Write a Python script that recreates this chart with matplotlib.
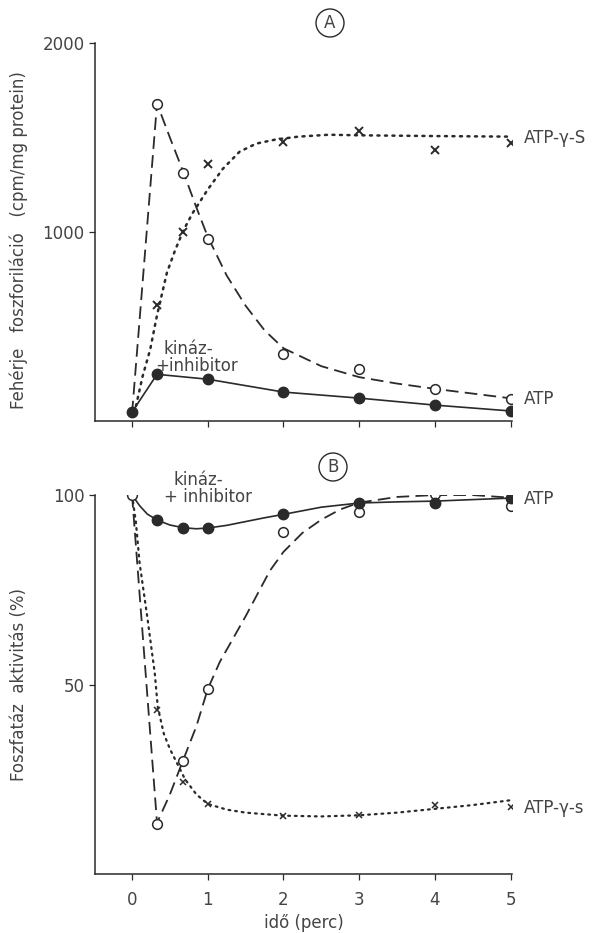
import matplotlib
matplotlib.use("Agg")
import matplotlib.pyplot as plt

# ---------------- data ----------------
# Panel A: protein phosphorylation (cpm/mg protein) vs time (min)
a_atp_x = [0.33, 0.67, 1, 2, 3, 4, 5]
a_atp_y = [1678, 1315, 963, 352, 273, 168, 116]
a_atp_curve_x = [0, 0.33, 0.5, 0.68, 0.85, 1.0, 1.25, 1.5, 1.75, 2.0, 2.5, 3.0, 3.5, 4.0, 4.5, 5.0]
a_atp_curve_y = [40, 1680, 1500, 1315, 1130, 975, 770, 610, 480, 385, 290, 232, 198, 170, 145, 120]

a_gs_x = [0.33, 0.67, 1, 2, 3, 4, 5]
a_gs_y = [615, 1000, 1362, 1478, 1536, 1436, 1473]
a_gs_curve_x = [0.03, 0.14, 0.24, 0.33, 0.46, 0.57, 0.68, 0.8, 1.0, 1.2, 1.42, 1.64, 1.9, 2.2, 2.6, 3.0, 4.0, 5.0]
a_gs_curve_y = [40, 237, 379, 560, 784, 905, 1010, 1100, 1225, 1335, 1425, 1468, 1490, 1505, 1515, 1512, 1508, 1505]

a_kin_x = [0, 0.33, 1, 2, 3, 4, 5]
a_kin_y = [47, 247, 221, 153, 121, 84, 53]

# Panel B: phosphatase activity (%) vs time (min)
b_atp_x = [0, 0.33, 0.67, 1, 2, 3, 4, 5]
b_atp_y = [100, 13.2, 29.8, 48.8, 90.2, 95.5, 100.3, 97.1]
b_atp_curve_x = [0, 0.33, 0.5, 0.67, 0.85, 1.0, 1.16, 1.5, 1.82, 2.0, 2.25, 2.5, 2.75, 3.0, 3.5, 4.0, 4.5, 5.0]
b_atp_curve_y = [100, 13.5, 21, 29.8, 39, 48.8, 56, 68, 80, 85, 90, 93.5, 96.2, 98, 99.5, 100, 100, 99.3]

b_gs_x = [0.33, 0.67, 1, 2, 3, 4, 5]
b_gs_y = [43.3, 24.3, 18.5, 15.4, 15.6, 18.2, 17.7]
b_gs_curve_x = [0, 0.05, 0.1, 0.2, 0.3, 0.34, 0.42, 0.5, 0.6, 0.7, 0.85, 1.0, 1.25, 1.5, 2.0, 2.5, 3.0, 3.5, 4.0, 4.5, 5.05]
b_gs_curve_y = [100, 93, 82, 68, 53, 44, 37, 33, 29, 25, 21, 18.5, 17, 16.2, 15.4, 15.2, 15.5, 16.2, 17.2, 18.2, 19.6]

b_kin_x = [0.33, 0.67, 1, 2, 3, 4, 5]
b_kin_y = [93.4, 91.3, 91.3, 94.9, 98.0, 97.8, 99.2]
b_kin_curve_x = [0, 0.1, 0.2, 0.33, 0.5, 0.67, 0.85, 1.0, 1.25, 1.5, 1.75, 2.0, 2.5, 3.0, 3.5, 4.0, 4.5, 5.0]
b_kin_curve_y = [100, 97.2, 95.0, 93.4, 92.1, 91.4, 91.1, 91.3, 92.0, 93.0, 94.0, 94.9, 96.8, 97.9, 98.2, 98.4, 98.8, 99.2]

x_ticks = [0, 1, 2, 3, 4, 5]
x_tick_labels = ["0", "1", "2", "3", "4", "5"]
a_y_ticks = [1000, 2000]
b_y_ticks = [50, 100]

# ---------------- style ----------------
plt.rcParams['font.family'] = ['DejaVu Sans']
INK = '#2a2a2a'
TXT = '#444444'
FS = 12

fig = plt.figure(figsize=(6.01, 9.33), dpi=100)
axA = fig.add_axes([0.158, 0.5488, 0.694, 0.405])
axB = fig.add_axes([0.158, 0.0632, 0.694, 0.4062])

dash = (0, (7, 3.5))
dot = (0, (0.8, 2.2))

def style(ax, ylim, yticks):
    ax.set_xlim(-0.49, 5.02)
    ax.set_ylim(*ylim)
    for s in ['top', 'right']:
        ax.spines[s].set_visible(False)
    for s in ['left', 'bottom']:
        ax.spines[s].set_color(INK)
        ax.spines[s].set_linewidth(1.1)
    ax.set_xticks(x_ticks)
    ax.set_yticks(yticks)
    ax.tick_params(direction='out', length=4, width=0.9, colors=INK,
                   labelsize=FS, labelcolor=TXT)

# ---- Panel A ----
style(axA, (0, 2000), a_y_ticks)
axA.set_xticklabels([])
axA.plot(a_atp_curve_x, a_atp_curve_y, color=INK, lw=1.3, linestyle=dash)
axA.plot(a_gs_curve_x, a_gs_curve_y, color=INK, lw=1.8, linestyle=dot,
         dash_capstyle='round')
axA.plot(a_kin_x, a_kin_y, color=INK, lw=1.2)
axA.plot(a_atp_x, a_atp_y, 'o', ms=7, mfc='white', mec=INK, mew=1.1, zorder=5)
axA.plot(a_kin_x, a_kin_y, 'o', ms=7.5, mfc=INK, mec=INK, zorder=5)
axA.plot(a_gs_x, a_gs_y, 'x', ms=5.5, mec=INK, mew=1.4, zorder=5)
axA.set_ylabel("Fehérje   foszforiláció   (cpm/mg protein)", fontsize=FS,
               color=TXT)
axA.yaxis.set_label_coords(-0.16, 0.48)
axA.text(5.18, 1500, "ATP-γ-S", fontsize=FS, color=TXT, va='center',
         ha='left', clip_on=False)
axA.text(5.18, 115, "ATP", fontsize=FS, color=TXT, va='center', ha='left',
         clip_on=False)
axA.text(0.42, 380, "kináz-", fontsize=FS, color=TXT, va='center', ha='left')
axA.text(0.31, 290, "+inhibitor", fontsize=FS, color=TXT, va='center',
         ha='left')
fig.text(330 / 601, 1 - 23 / 933, "A", fontsize=FS, color=TXT, ha='center',
         va='center',
         bbox=dict(boxstyle='circle,pad=0.3', fc='none', ec=INK, lw=1.0))

# ---- Panel B ----
style(axB, (0, 100), b_y_ticks)
axB.set_xticklabels(x_tick_labels)
axB.tick_params(axis='x', pad=8)
axB.plot(b_atp_curve_x, b_atp_curve_y, color=INK, lw=1.3, linestyle=dash)
axB.plot(b_gs_curve_x, b_gs_curve_y, color=INK, lw=1.6, linestyle=dot,
         dash_capstyle='round')
axB.plot(b_kin_curve_x, b_kin_curve_y, color=INK, lw=1.2)
axB.plot(b_atp_x, b_atp_y, 'o', ms=7, mfc='white', mec=INK, mew=1.1, zorder=5)
axB.plot(b_kin_x, b_kin_y, 'o', ms=7.5, mfc=INK, mec=INK, zorder=5)
axB.plot(b_gs_x, b_gs_y, 'x', ms=4.5, mec=INK, mew=1.1, zorder=5)
axB.set_ylabel("Foszfatáz  aktivitás (%)", fontsize=FS, color=TXT)
axB.yaxis.set_label_coords(-0.16, 0.5)
axB.set_xlabel("idő (perc)", fontsize=FS, color=TXT, labelpad=4)
axB.text(5.18, 99, "ATP", fontsize=FS, color=TXT, va='center', ha='left',
         clip_on=False)
axB.text(5.18, 17.5, "ATP-γ-s", fontsize=FS, color=TXT, va='center',
         ha='left', clip_on=False)
axB.text(0.55, 104, "kináz-", fontsize=FS, color=TXT, va='center', ha='left',
         clip_on=False)
axB.text(0.42, 99.5, "+ inhibitor", fontsize=FS, color=TXT, va='center',
         ha='left')
fig.text(333 / 601, 1 - 467 / 933, "B", fontsize=FS, color=TXT, ha='center',
         va='center',
         bbox=dict(boxstyle='circle,pad=0.3', fc='none', ec=INK, lw=1.0))

fig.savefig("out.png", dpi=100)
